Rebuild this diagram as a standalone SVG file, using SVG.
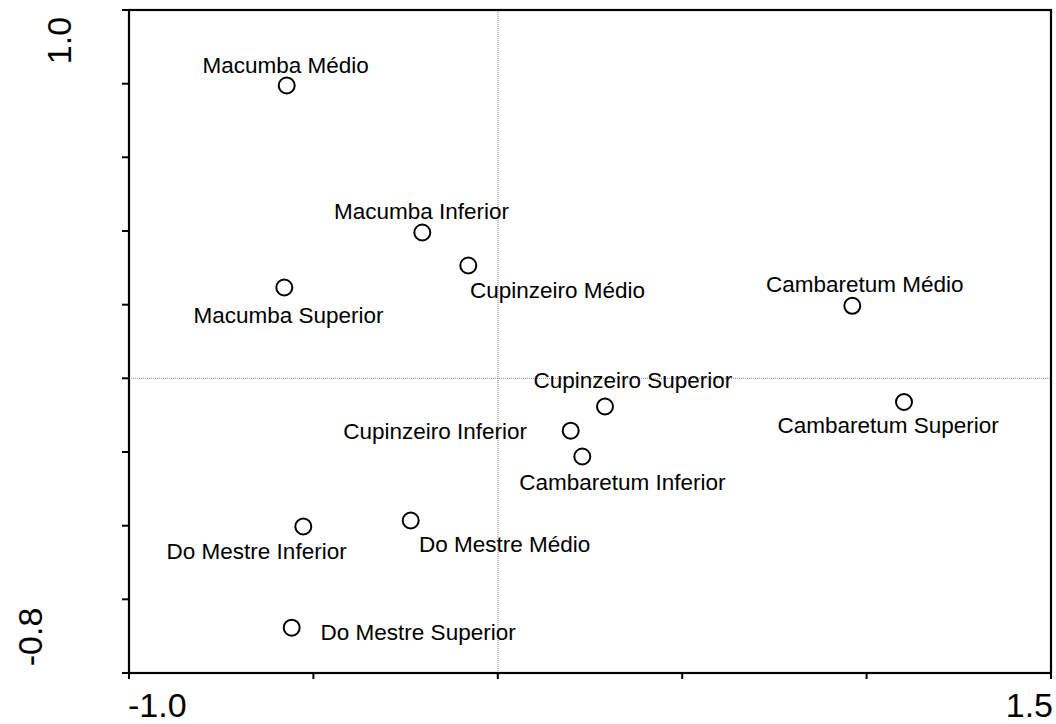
<svg xmlns="http://www.w3.org/2000/svg" width="1056" height="724" viewBox="0 0 1056 724">
<style>
.ax{stroke:#000;stroke-width:2.2;fill:none}
.tk{stroke:#000;stroke-width:2}
.ref{stroke:#888;stroke-width:1;stroke-dasharray:1 1}
.pt{fill:#fff;stroke:#000;stroke-width:2}
.lb{font-family:"Liberation Sans",Arial,sans-serif;font-size:22.5px;fill:#000}
.al{font-family:"Liberation Sans",Arial,sans-serif;font-size:34px;fill:#000}
</style>
<rect width="1056" height="724" fill="#fff"/>
<g id="axes">
<line class="ref" x1="498" y1="10" x2="498" y2="673"/>
<line class="ref" x1="129" y1="378.3" x2="1051" y2="378.3"/>
<rect class="ax" x="129" y="10" width="922" height="663"/>
<g class="tk">
<line x1="122" y1="10" x2="129" y2="10"/>
<line x1="122" y1="83.7" x2="129" y2="83.7"/>
<line x1="122" y1="157.3" x2="129" y2="157.3"/>
<line x1="122" y1="231" x2="129" y2="231"/>
<line x1="122" y1="304.7" x2="129" y2="304.7"/>
<line x1="122" y1="378.3" x2="129" y2="378.3"/>
<line x1="122" y1="452" x2="129" y2="452"/>
<line x1="122" y1="525.7" x2="129" y2="525.7"/>
<line x1="122" y1="599.3" x2="129" y2="599.3"/>
<line x1="122" y1="673" x2="129" y2="673"/>
<line x1="129" y1="673" x2="129" y2="679"/>
<line x1="313.4" y1="673" x2="313.4" y2="679"/>
<line x1="497.8" y1="673" x2="497.8" y2="679"/>
<line x1="682.2" y1="673" x2="682.2" y2="679"/>
<line x1="866.6" y1="673" x2="866.6" y2="679"/>
<line x1="1051" y1="673" x2="1051" y2="679"/>
</g>
<text class="al" x="128" y="717">-1.0</text>
<text class="al" x="1053" y="717" text-anchor="end">1.5</text>
<text class="al" transform="translate(71,40.5) rotate(-90)" text-anchor="middle">1.0</text>
<text class="al" transform="translate(42,637) rotate(-90)" text-anchor="middle">-0.8</text>
</g>
<g id="macumba-medio"><circle class="pt" cx="286.7" cy="85.5" r="8"/><text class="lb" x="202.5" y="72.7">Macumba Médio</text></g>
<g id="macumba-inferior"><circle class="pt" cx="422.3" cy="232.5" r="8"/><text class="lb" x="334" y="219.3">Macumba Inferior</text></g>
<g id="cupinzeiro-medio"><circle class="pt" cx="468.3" cy="265.5" r="8"/><text class="lb" x="470" y="298.3">Cupinzeiro Médio</text></g>
<g id="macumba-superior"><circle class="pt" cx="284.3" cy="287.5" r="8"/><text class="lb" x="193.5" y="322.7">Macumba Superior</text></g>
<g id="cambaretum-medio"><circle class="pt" cx="852.3" cy="305.8" r="8"/><text class="lb" x="766" y="291.7">Cambaretum Médio</text></g>
<g id="cupinzeiro-superior"><circle class="pt" cx="605" cy="406.5" r="8"/><text class="lb" x="533.5" y="388.3">Cupinzeiro Superior</text></g>
<g id="cambaretum-superior"><circle class="pt" cx="904" cy="402" r="8"/><text class="lb" x="777.5" y="433.3">Cambaretum Superior</text></g>
<g id="cupinzeiro-inferior"><circle class="pt" cx="570.7" cy="430.7" r="8"/><text class="lb" x="527" y="438.5" text-anchor="end">Cupinzeiro Inferior</text></g>
<g id="cambaretum-inferior"><circle class="pt" cx="582.3" cy="456.5" r="8"/><text class="lb" x="519.2" y="490">Cambaretum Inferior</text></g>
<g id="do-mestre-inferior"><circle class="pt" cx="303.3" cy="526.5" r="8"/><text class="lb" x="166.6" y="559.3">Do Mestre Inferior</text></g>
<g id="do-mestre-medio"><circle class="pt" cx="410.7" cy="520.5" r="8"/><text class="lb" x="419" y="551.7">Do Mestre Médio</text></g>
<g id="do-mestre-superior"><circle class="pt" cx="291.7" cy="627.7" r="8"/><text class="lb" x="320.6" y="640">Do Mestre Superior</text></g>
<g id="connectors"></g>
</svg>
